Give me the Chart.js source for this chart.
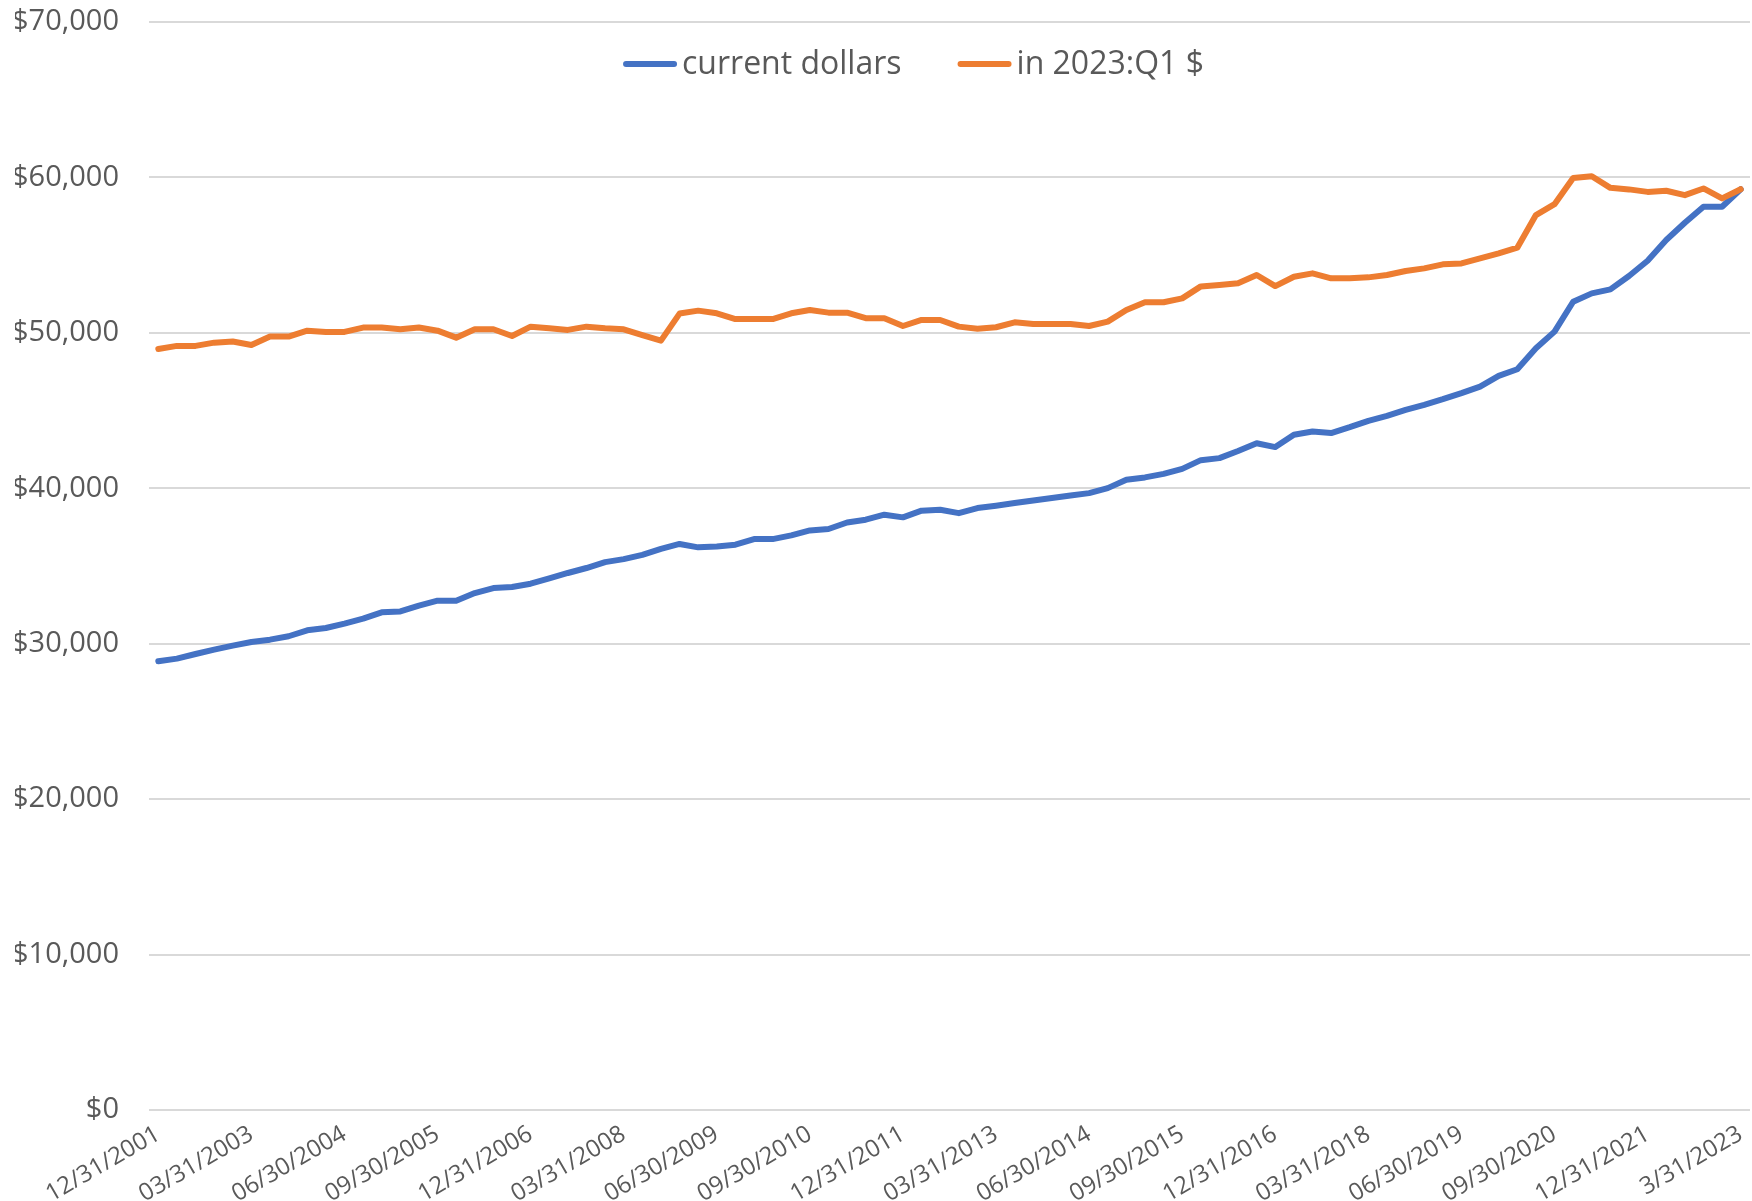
<!DOCTYPE html>
<html>
<head>
<meta charset="utf-8">
<script src="https://cdn.jsdelivr.net/npm/chart.js@4.4.0/dist/chart.umd.min.js"></script>
<style>
  html, body { margin: 0; padding: 0; background: #fff; }
  #wrap { width: 1752px; height: 1201px; }
</style>
</head>
<body>
<div id="wrap"><canvas id="myChart" width="1752" height="1201"></canvas></div>
<script>
// quarter ends, 12/31/2001 .. 3/31/2023
const quarterEnds = ['03/31', '06/30', '09/30', '12/31'];
const quarters = [];
for (let y = 2001; y <= 2023; y++) {
    for (let q = 0; q < 4; q++) {
        if (y === 2001 && q < 3) continue;
        if (y === 2023 && q > 0) continue;
        quarters.push(quarterEnds[q] + '/' + y);
    }
}

// labels shown on the x axis (every 5th quarter)
const tickLabels = ['12/31/2001', '03/31/2003', '06/30/2004', '09/30/2005', '12/31/2006', '03/31/2008',
    '06/30/2009', '09/30/2010', '12/31/2011', '03/31/2013', '06/30/2014', '09/30/2015',
    '12/31/2016', '03/31/2018', '06/30/2019', '09/30/2020', '12/31/2021', '3/31/2023'];

const currentDollars = [
    28870, 29040, 29340, 29620, 29880, 30110, 30260, 30480, 30860, 31010,
    31290, 31610, 32020, 32080, 32450, 32770, 32770, 33260, 33580, 33650,
    33860, 34200, 34550, 34870, 35250, 35440, 35720, 36100, 36420, 36200,
    36260, 36370, 36730, 36730, 36970, 37290, 37380, 37800, 37980, 38300,
    38130, 38560, 38620, 38400, 38730, 38880, 39050, 39220, 39370, 39540,
    39690, 40010, 40550, 40700, 40930, 41250, 41810, 41940, 42400, 42900,
    42650, 43440, 43650, 43550, 43930, 44340, 44660, 45040, 45370, 45730,
    46120, 46540, 47230, 47660, 49010, 50080, 52000, 52540, 52800, 53660,
    54640, 55970, 57080, 58110, 58110, 59240
];

const real2023Q1 = [
    48960, 49160, 49160, 49370, 49440, 49220, 49760, 49760, 50140, 50060,
    50060, 50340, 50340, 50230, 50340, 50140, 49690, 50230, 50230, 49800,
    50400, 50290, 50190, 50400, 50290, 50230, 49860, 49500, 51240, 51430,
    51260, 50890, 50890, 50890, 51260, 51470, 51300, 51300, 50940, 50940,
    50440, 50830, 50830, 50400, 50270, 50360, 50680, 50570, 50570, 50570,
    50440, 50720, 51470, 51970, 51970, 52220, 52990, 53080, 53190, 53720,
    53010, 53610, 53830, 53510, 53510, 53570, 53720, 53980, 54150, 54410,
    54470, 54790, 55110, 55480, 57580, 58280, 59970, 60080, 59330, 59230,
    59070, 59140, 58860, 59290, 58650, 59240
];

const BLUE = '#4472C4';
const ORANGE = '#ED7D31';
const TEXT = '#595959';
const FONT = "'Open Sans', sans-serif";

Chart.defaults.font.family = FONT;
Chart.defaults.color = TEXT;

// excel style legend: short line + label, drawn inside the plot at the top
const lineLegend = {
    id: 'lineLegend',
    afterDraw(chart) {
        const c = chart.ctx;
        const area = chart.chartArea;
        const sets = chart.data.datasets;
        const sample = 54, gap = 5, spacing = 56;
        c.save();
        c.font = '32px ' + FONT;
        c.textBaseline = 'middle';
        const widths = sets.map(d => c.measureText(d.label).width);
        let total = spacing * (sets.length - 1);
        widths.forEach(w => { total += sample + gap + w; });
        let x = (area.left + area.right) / 2 - 36 - total / 2;
        const y = area.top + 42;
        sets.forEach((d, i) => {
            c.strokeStyle = d.borderColor;
            c.lineWidth = 6;
            c.lineCap = 'round';
            c.beginPath();
            c.moveTo(x + 3, y);
            c.lineTo(x + sample - 3, y);
            c.stroke();
            c.fillStyle = TEXT;
            c.fillText(d.label, x + sample + gap, y + 1);
            x += sample + gap + widths[i] + spacing;
        });
        c.restore();
    }
};

var ctx = document.getElementById('myChart');
new Chart(ctx, {
    type: 'line',
    data: {
        labels: quarters,
        datasets: [{
            label: 'current dollars',
            data: currentDollars,
            borderColor: BLUE,
            backgroundColor: BLUE,
            borderWidth: 6,
            pointRadius: 0,
            borderCapStyle: 'round',
            borderJoinStyle: 'round',
            order: 1
        }, {
            label: 'in 2023:Q1 $',
            data: real2023Q1,
            borderColor: ORANGE,
            backgroundColor: ORANGE,
            borderWidth: 6,
            pointRadius: 0,
            borderCapStyle: 'round',
            borderJoinStyle: 'round',
            order: 0
        }]
    },
    options: {
        responsive: false,
        animation: false,
        devicePixelRatio: 1,
        layout: {
            padding: { left: 15, top: 22, right: 2, bottom: 0 }
        },
        plugins: {
            tooltip: { enabled: false },
            legend: { display: false }
        },
        scales: {
            x: {
                offset: true,
                grid: { display: false, drawTicks: false },
                border: { display: false },
                ticks: {
                    autoSkip: false,
                    minRotation: 30,
                    maxRotation: 30,
                    padding: 10,
                    font: { size: 24 },
                    callback: (val, i) => (i % 5 === 0 ? tickLabels[i / 5] : null)
                },
                afterFit: (s) => { s.paddingLeft = 0; s.paddingRight = 0; s.height = 91; }
            },
            y: {
                min: 0,
                max: 70000,
                border: { display: false },
                grid: { color: '#D9D9D9', lineWidth: 2, drawTicks: false },
                ticks: {
                    stepSize: 10000,
                    padding: 30,
                    font: { size: 29 },
                    callback: (v) => '$' + v.toLocaleString('en-US')
                },
                afterFit: (s) => { s.paddingTop = 0; s.paddingBottom = 0; s.width = 134; }
            }
        }
    },
    plugins: [lineLegend]
});
</script>
</body>
</html>
